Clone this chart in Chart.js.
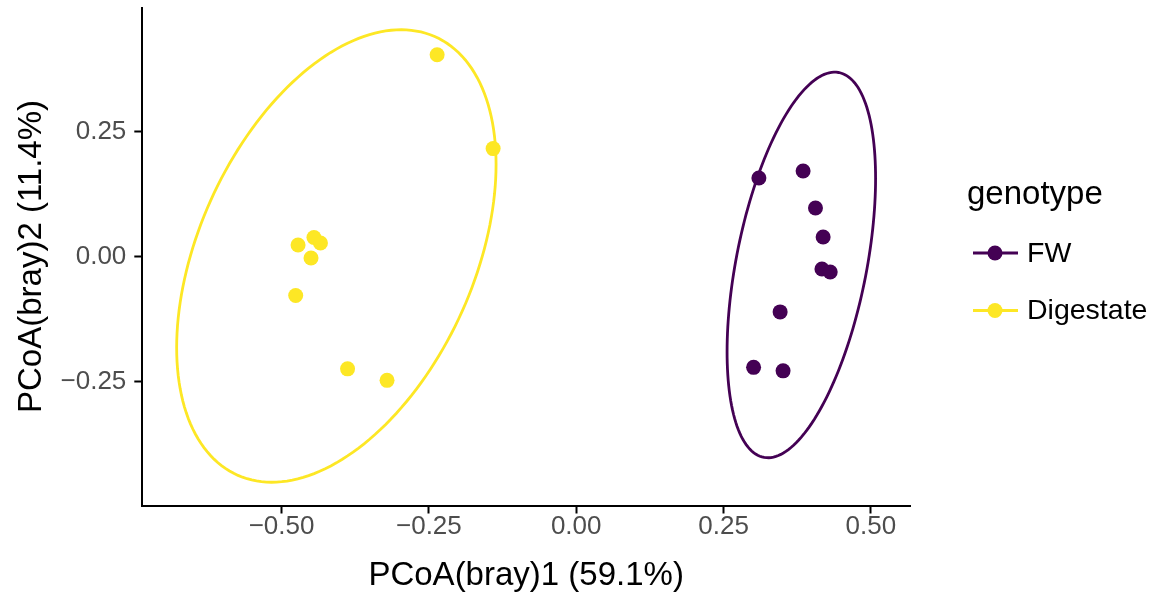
<!DOCTYPE html>
<html>
<head>
<meta charset="utf-8">
<title>PCoA (bray)</title>
<script src="https://cdn.jsdelivr.net/npm/chart.js@4.4.1/dist/chart.umd.min.js"></script>
<style>
    html, body { margin: 0; padding: 0; background: #ffffff; }
    #pcoa_container { width: 1156px; height: 594px; }
</style>
</head>
<body>
<div id="pcoa_container"><canvas id="pcoa_plot" width="1156" height="594"></canvas></div>
<script>
// sample scores per group
const groups = ["FW", "Digestate"];
const groupColors = ["#440154", "#FDE725"];

const fwX = [0.310, 0.385, 0.406, 0.419, 0.417, 0.431, 0.346, 0.301, 0.351];
const fwY = [0.157, 0.171, 0.097, 0.039, -0.025, -0.031, -0.111, -0.222, -0.229];

const digX = [-0.236, -0.141, -0.472, -0.445, -0.434, -0.450, -0.476, -0.388, -0.321];
const digY = [0.404, 0.216, 0.023, 0.038, 0.027, -0.003, -0.078, -0.225, -0.248];

// stat_ellipse outlines: centre, half extents along x / y, correlation
const ellipseCx = [0.382, -0.407];
const ellipseCy = [-0.017, 0.001];
const ellipseSx = [0.126, 0.271];
const ellipseSy = [0.386, 0.453];
const ellipseR = [0.45, 0.405];

const xTicks = [-0.50, -0.25, 0.00, 0.25, 0.50];
const yTicks = [-0.25, 0.00, 0.25];

const xTitle = "PCoA(bray)1 (59.1%)";
const yTitle = "PCoA(bray)2 (11.4%)";
const legendTitle = "genotype";

const FONT = "'Liberation Sans', Arial, Helvetica, sans-serif";

function toPoints(xs, ys) {
    let out = [];
    for (let i = 0; i < xs.length; i++) out.push({ x: xs[i], y: ys[i] });
    return out;
}

function fmtTick(v) {
    let s = Math.abs(v).toFixed(2);
    return v < -1e-9 ? "\u2212" + s : s;
}

// no extra room for edge labels, the plot box is fixed
function noPadding(scale) {
    scale.paddingTop = 0;
    scale.paddingBottom = 0;
    scale.paddingLeft = 0;
    scale.paddingRight = 0;
}

const ellipsePlugin = {
    id: "ellipses",
    beforeDatasetsDraw(chart) {
        const ctx = chart.ctx, sx = chart.scales.x, sy = chart.scales.y, a = chart.chartArea;
        ctx.save();
        ctx.beginPath();
        ctx.rect(a.left, a.top, a.right - a.left, a.bottom - a.top);
        ctx.clip();
        for (let g = 0; g < groups.length; g++) {
            const r = ellipseR[g];
            ctx.beginPath();
            for (let i = 0; i <= 180; i++) {
                const t = i / 180 * 2 * Math.PI;
                const dx = ellipseSx[g] * Math.cos(t);
                const dy = ellipseSy[g] * (r * Math.cos(t) + Math.sqrt(1 - r * r) * Math.sin(t));
                const px = sx.getPixelForValue(ellipseCx[g] + dx);
                const py = sy.getPixelForValue(ellipseCy[g] + dy);
                if (i == 0) ctx.moveTo(px, py); else ctx.lineTo(px, py);
            }
            ctx.closePath();
            ctx.strokeStyle = groupColors[g];
            ctx.lineWidth = 2.8;
            ctx.stroke();
        }
        ctx.restore();
    }
};

// ggplot style legend: title + line with dot
const legendPlugin = {
    id: "ggLegend",
    afterDraw(chart) {
        const ctx = chart.ctx;
        ctx.save();
        ctx.fillStyle = "#000000";
        ctx.textBaseline = "middle";
        ctx.textAlign = "left";
        ctx.font = "33px " + FONT;
        ctx.fillText(legendTitle, 967, 195);
        ctx.font = "28.5px " + FONT;
        for (let g = 0; g < groups.length; g++) {
            const y = 253 + g * 57.5;
            ctx.strokeStyle = groupColors[g];
            ctx.lineWidth = 3;
            ctx.beginPath();
            ctx.moveTo(973, y);
            ctx.lineTo(1018, y);
            ctx.stroke();
            ctx.fillStyle = groupColors[g];
            ctx.beginPath();
            ctx.arc(995, y, 7.5, 0, 2 * Math.PI);
            ctx.fill();
            ctx.fillStyle = "#000000";
            ctx.fillText(groups[g], 1027, y + 1);
        }
        ctx.restore();
    }
};

const DATA = {
    datasets: [{
        label: groups[0],
        data: toPoints(fwX, fwY),
        backgroundColor: groupColors[0],
        borderWidth: 0,
        pointRadius: 7.5,
        pointHoverRadius: 7.5,
    }, {
        label: groups[1],
        data: toPoints(digX, digY),
        backgroundColor: groupColors[1],
        borderWidth: 0,
        pointRadius: 7.5,
        pointHoverRadius: 7.5,
    }]
};

const config = {
    type: "scatter",
    data: DATA,
    plugins: [ellipsePlugin, legendPlugin],
    options: {
        responsive: false,
        animation: false,
        layout: { padding: { top: 6, right: 246, left: 0, bottom: 0 } },
        plugins: {
            legend: { display: false },
            tooltip: { enabled: false },
        },
        scales: {
            x: {
                type: "linear",
                min: -0.7363,
                max: 0.5664,
                afterBuildTicks: (scale) => { scale.ticks = xTicks.map(v => ({ value: v })); },
                afterFit: (scale) => { scale.height = 88.5; noPadding(scale); },
                border: { display: true, color: "#000000", width: 2 },
                grid: { drawOnChartArea: false, drawTicks: true, tickLength: 8, tickWidth: 2, tickColor: "#000000" },
                ticks: {
                    color: "#4D4D4D",
                    padding: -2,
                    maxRotation: 0,
                    font: { family: FONT, size: 26 },
                    callback: (v) => fmtTick(v),
                },
                title: {
                    display: true,
                    text: xTitle,
                    color: "#000000",
                    padding: { top: 0, bottom: 2 },
                    font: { family: FONT, size: 33, lineHeight: 1 },
                },
            },
            y: {
                type: "linear",
                min: -0.4986,
                max: 0.4985,
                afterBuildTicks: (scale) => { scale.ticks = yTicks.map(v => ({ value: v })); },
                afterFit: (scale) => { scale.width = 142.3; noPadding(scale); },
                border: { display: true, color: "#000000", width: 2 },
                grid: { drawOnChartArea: false, drawTicks: true, tickLength: 8, tickWidth: 2, tickColor: "#000000" },
                ticks: {
                    color: "#4D4D4D",
                    padding: 8,
                    font: { family: FONT, size: 26 },
                    callback: (v) => fmtTick(v),
                },
                title: {
                    display: true,
                    text: yTitle,
                    color: "#000000",
                    padding: { top: 15, bottom: 0 },
                    font: { family: FONT, size: 33, lineHeight: 1 },
                },
            },
        },
    },
};

const ctx = document.getElementById("pcoa_plot");
window.pcoa_chart = new Chart(ctx, config);
</script>
</body>
</html>
